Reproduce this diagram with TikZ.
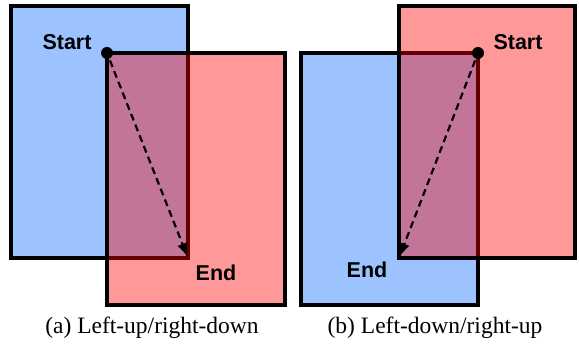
\documentclass[tikz,border=0pt]{standalone}
\usepackage{fontspec}
\setmainfont{Liberation Serif}
\newfontfamily\lblfont{Liberation Sans}
\usetikzlibrary{arrows.meta}
\definecolor{boxblue}{RGB}{156,195,255}
\tikzset{
  rbox/.style={draw=black, line width=3.2pt, inner sep=0pt, outer sep=0pt, rectangle},
  bluebox/.style={rbox, fill=boxblue},
  redbox/.style={rbox, fill=red, fill opacity=0.4, draw opacity=1},
  dotnode/.style={circle, fill=black, inner sep=0pt, minimum size=12pt},
  lbl/.style={font=\lblfont\bfseries\fontsize{21.5}{24}\selectfont, inner sep=0pt},
  captext/.style={font=\fontsize{23.5}{27}\selectfont, inner sep=0pt},
  darrow/.style={dashed, dash pattern=on 7pt off 4.5pt, line width=2.2pt, -{Latex[length=14pt,width=11pt]}, shorten <=8pt, shorten >=1pt}
}
\begin{document}
\begin{tikzpicture}[x=1pt,y=-1pt]
\useasboundingbox (0,0) rectangle (579,344);
% panel (a)
\node[bluebox, minimum width=177pt, minimum height=252pt] (b1) at (99.5,132) {};
\node[redbox, minimum width=178pt, minimum height=252pt] (r1) at (196,179) {};
\node[dotnode] (s1) at (r1.north west) {};
\draw[darrow] (s1.center) -- (b1.south east);
\node[lbl] (st1) at (67,42) {Start};
\node[lbl] (en1) at (216,273) {End};
\node[captext] (c1) at (152,328) {(a) Left-up/right-down};
% panel (b)
\node[bluebox, minimum width=177pt, minimum height=252pt] (b2) at (389.5,179) {};
\node[redbox, minimum width=176pt, minimum height=252pt] (r2) at (487,132) {};
\node[dotnode] (s2) at (b2.north east) {};
\draw[darrow] (s2.center) -- (r2.south west);
\node[lbl] (st2) at (518,42) {Start};
\node[lbl] (en2) at (367,270) {End};
\node[captext] (c2) at (435,328) {(b) Left-down/right-up};
\end{tikzpicture}
\end{document}
